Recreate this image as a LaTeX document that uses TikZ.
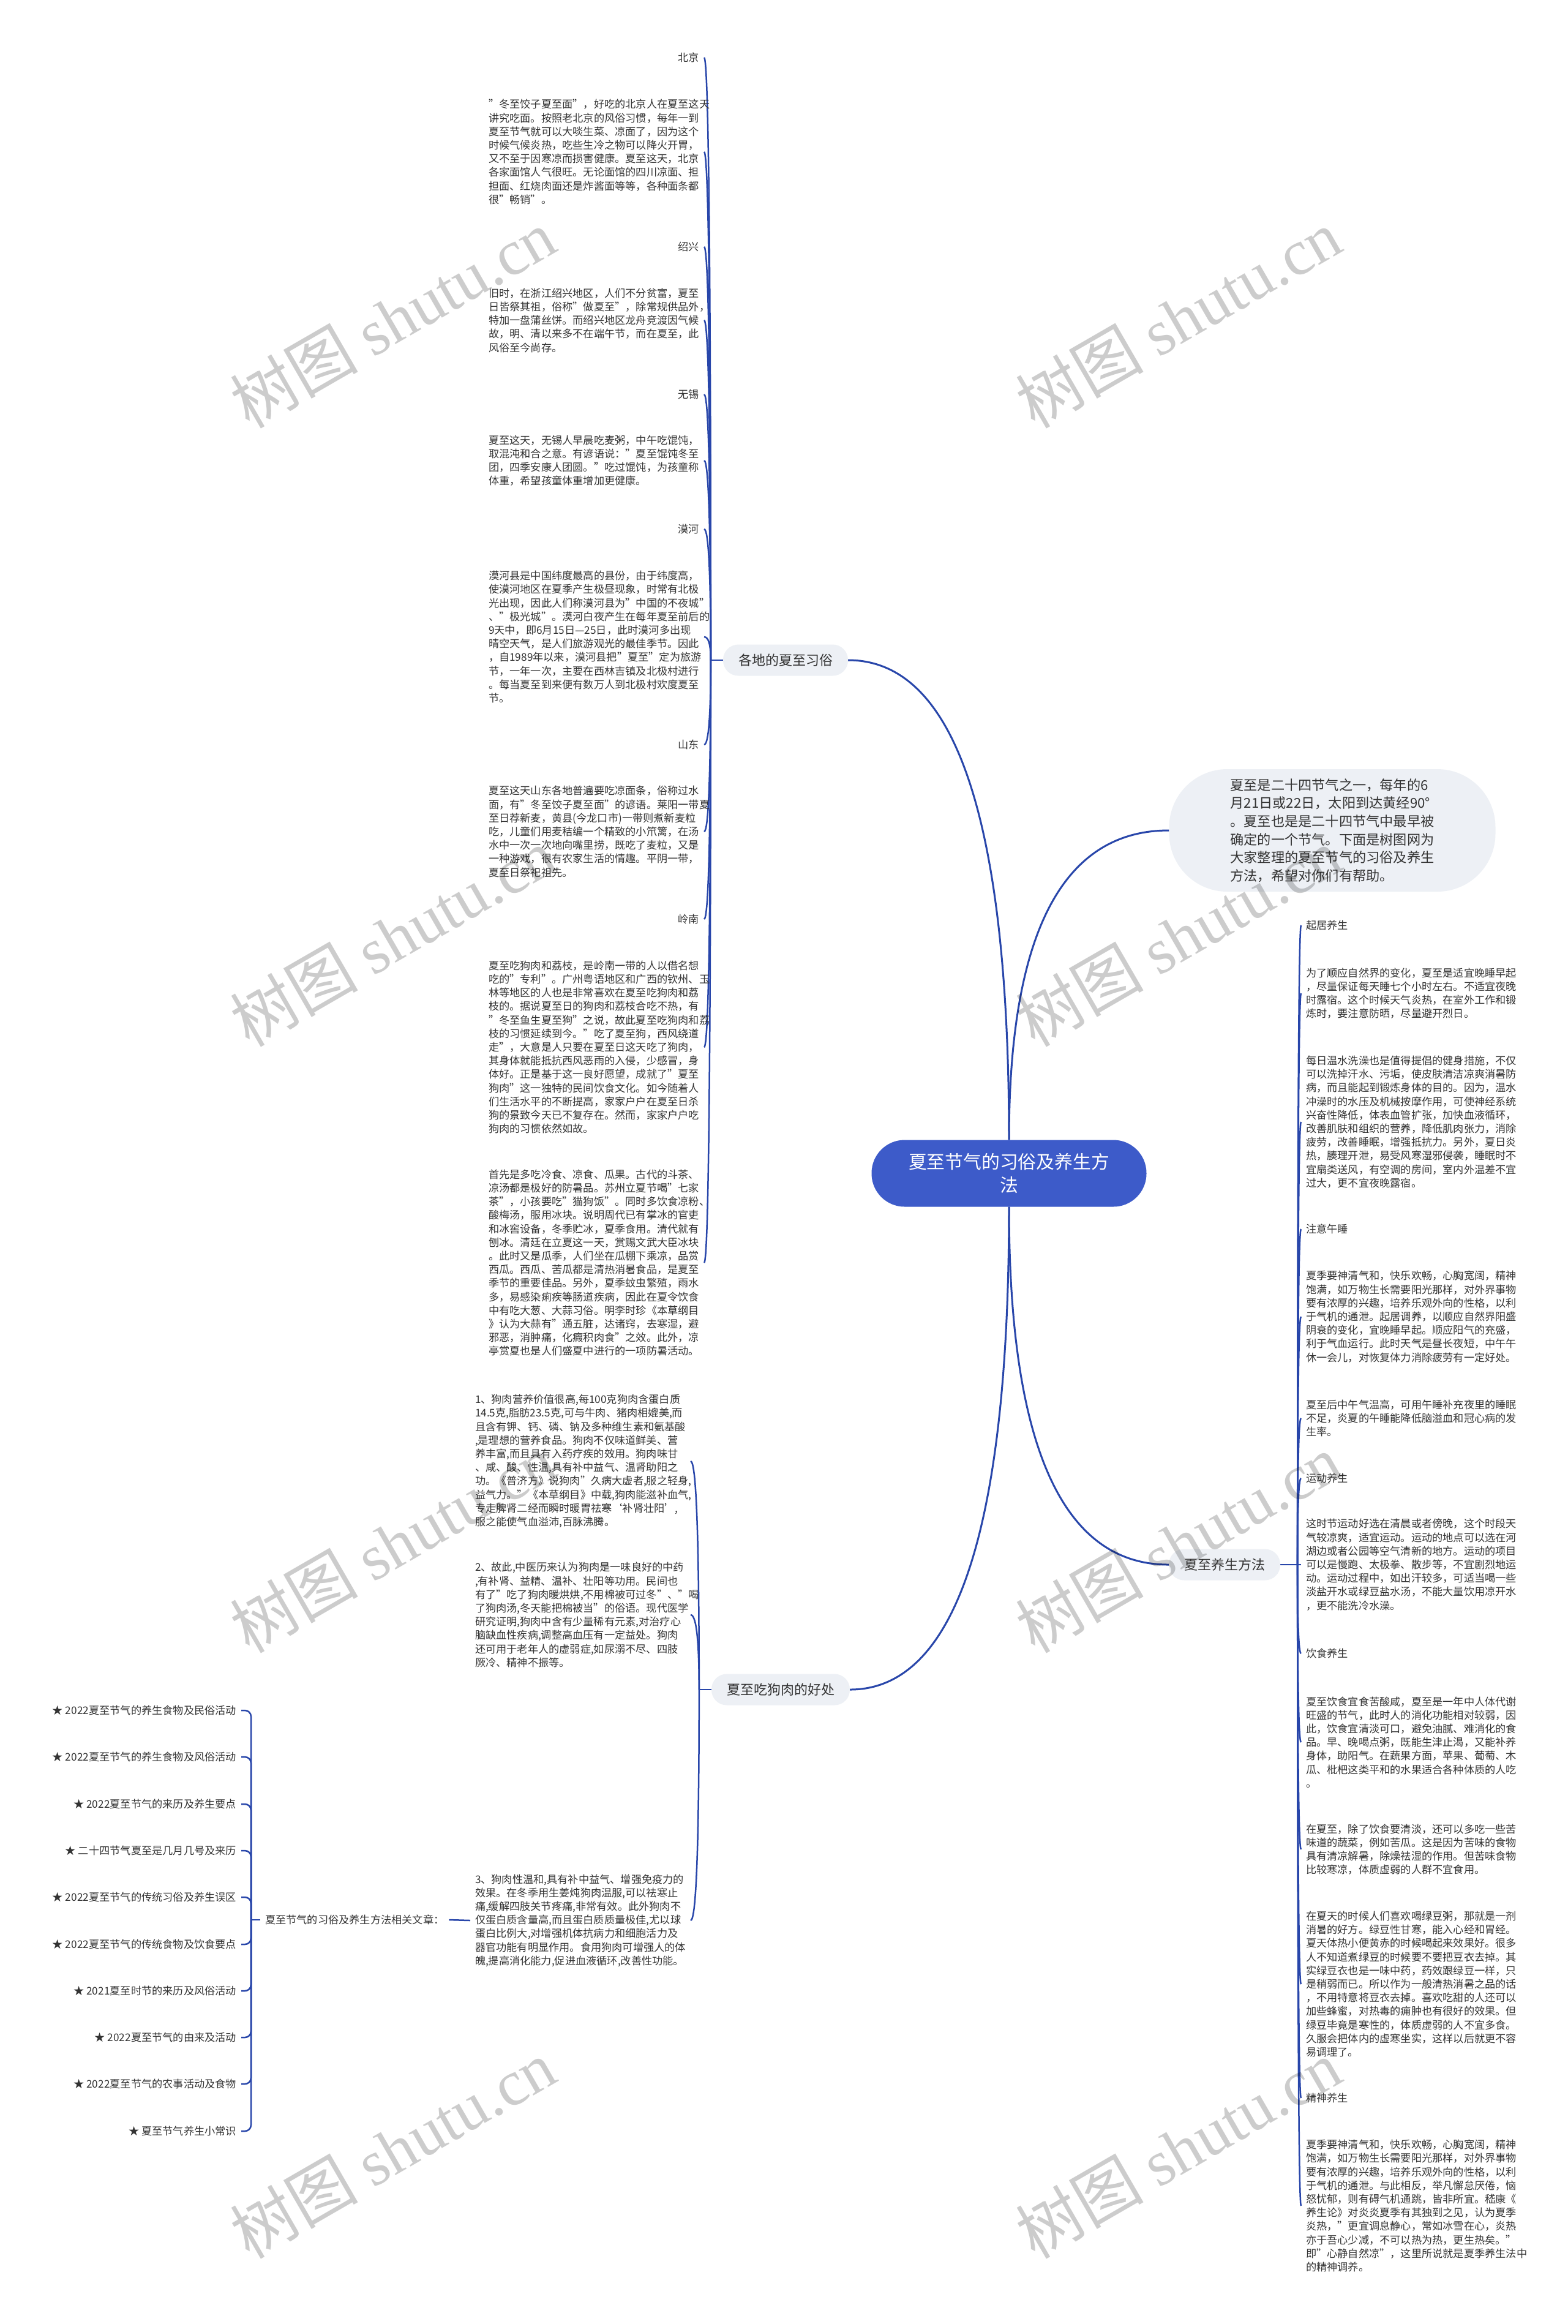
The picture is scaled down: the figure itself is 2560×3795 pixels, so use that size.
\documentclass[tikz,border=0pt]{standalone}
\usepackage{fontspec}
\setmainfont{Noto Sans CJK SC}
\newfontfamily\wmserif{Liberation Serif}
\usetikzlibrary{calc}
\definecolor{lc}{HTML}{2846AA}
\definecolor{rootc}{HTML}{3D5BC9}
\definecolor{pillc}{HTML}{EDF0F5}
\definecolor{txt}{HTML}{333333}
\pgfdeclarelayer{bgz}
\pgfdeclarelayer{bgl}
\pgfdeclarelayer{fgw}
\pgfsetlayers{bgz,bgl,main,fgw}
\newcommand\leaffont{\fontsize{17.2pt}{22.2pt}\selectfont}
\newcommand\mmq[3][conn]{\draw[#1] (#2) .. controls ($(#2)!0.6667!(#2|-#3)$) and ($(#3)!0.6667!(#2|-#3)$) .. (#3);}
\begin{document}
\begin{tikzpicture}[x=1pt,y=-1pt,
  leaf/.style={font=\leaffont, text=txt, inner sep=0pt, outer xsep=8pt, outer ysep=0pt, align=left},
  blk/.style={leaf, text width=344pt},
  conn/.style={draw=lc, line width=2.5pt},
  rconn/.style={draw=lc, line width=3pt},
  pill/.style={fill=pillc, rounded corners=25pt, minimum height=51pt, inner xsep=25pt, inner ysep=0pt, font=\fontsize{22pt}{26pt}\selectfont, text=txt},
  rootn/.style={fill=rootc, rounded corners=54pt, minimum width=449pt, minimum height=109pt, text=white, align=center, font=\fontsize{29.8pt}{37.7pt}\selectfont, inner sep=0pt},
  intro/.style={fill=pillc, rounded corners=95pt, text width=333pt, align=left, inner xsep=100pt, inner ysep=0pt, minimum height=200pt, font=\fontsize{22.2pt}{29.6pt}\selectfont, text=txt},
  wm/.style={rotate=30, text=black, text opacity=0.2, font=\fontsize{105pt}{110pt}\selectfont}
]
\useasboundingbox (0,0) rectangle (2560,3795);
\begin{pgfonlayer}{bgz}
\fill[white] (0,0) rectangle (2560,3795);
\end{pgfonlayer}

% root and branches
\node[rootn] (root) at (1648,1916) {夏至节气的习俗及养生方\\法};
\node[intro] (intro) at (2176,1356) {夏至是二十四节气之一，每年的6\\月21日或22日，太阳到达黄经90°\\。夏至也是是二十四节气中最早被\\确定的一个节气。下面是树图网为\\大家整理的夏至节气的习俗及养生\\方法，希望对你们有帮助。};
\node[pill] (gedi) at (1283,1078) {各地的夏至习俗};
\node[pill] (yang) at (2000,2555) {夏至养生方法};
\node[pill] (dog) at (1275,2759) {夏至吃狗肉的好处};

% customs (left)
\node[leaf, anchor=east] (bjL) at (1150,94) {北京};
\node[blk, anchor=west] (bjT) at (790,248) {"冬至饺子夏至面"，好吃的北京人在夏至这天\\讲究吃面。按照老北京的风俗习惯，每年一到\\夏至节气就可以大啖生菜、凉面了，因为这个\\时候气候炎热，吃些生冷之物可以降火开胃，\\又不至于因寒凉而损害健康。夏至这天，北京\\各家面馆人气很旺。无论面馆的四川凉面、担\\担面、红烧肉面还是炸酱面等等，各种面条都\\很"畅销"。};
\node[leaf, anchor=east] (sxL) at (1150,403) {绍兴};
\node[blk, anchor=west] (sxT) at (790,523) {旧时，在浙江绍兴地区，人们不分贫富，夏至\\日皆祭其祖，俗称"做夏至"，除常规供品外，\\特加一盘蒲丝饼。而绍兴地区龙舟竞渡因气候\\故，明、清以来多不在端午节，而在夏至，此\\风俗至今尚存。};
\node[leaf, anchor=east] (wxL) at (1150,644) {无锡};
\node[blk, anchor=west] (wxT) at (790,752) {夏至这天，无锡人早晨吃麦粥，中午吃馄饨，\\取混沌和合之意。有谚语说："夏至馄饨冬至\\团，四季安康人团圆。"吃过馄饨，为孩童称\\体重，希望孩童体重增加更健康。};
\node[leaf, anchor=east] (mhL) at (1150,864) {漠河};
\node[blk, anchor=west] (mhT) at (790,1040) {漠河县是中国纬度最高的县份，由于纬度高，\\使漠河地区在夏季产生极昼现象，时常有北极\\光出现，因此人们称漠河县为"中国的不夜城"\\、"极光城"。漠河白夜产生在每年夏至前后的\\9天中，即6月15日—25日，此时漠河多出现\\晴空天气，是人们旅游观光的最佳季节。因此\\，自1989年以来，漠河县把"夏至"定为旅游\\节，一年一次，主要在西林吉镇及北极村进行\\。每当夏至到来便有数万人到北极村欢度夏至\\节。};
\node[leaf, anchor=east] (sdL) at (1150,1216) {山东};
\node[blk, anchor=west] (sdT) at (790,1358) {夏至这天山东各地普遍要吃凉面条，俗称过水\\面，有"冬至饺子夏至面"的谚语。莱阳一带夏\\至日荐新麦，黄县(今龙口市)一带则煮新麦粒\\吃，儿童们用麦秸编一个精致的小笊篱，在汤\\水中一次一次地向嘴里捞，既吃了麦粒，又是\\一种游戏，很有农家生活的情趣。平阴一带，\\夏至日祭祀祖先。};
\node[leaf, anchor=east] (lnL) at (1150,1501) {岭南};
\node[blk, anchor=west] (lnT) at (790,1710) {夏至吃狗肉和荔枝，是岭南一带的人以借名想\\吃的"专利"。广州粤语地区和广西的钦州、玉\\林等地区的人也是非常喜欢在夏至吃狗肉和荔\\枝的。据说夏至日的狗肉和荔枝合吃不热，有\\"冬至鱼生夏至狗"之说，故此夏至吃狗肉和荔\\枝的习惯延续到今。"吃了夏至狗，西风绕道\\走"，大意是人只要在夏至日这天吃了狗肉，\\其身体就能抵抗西风恶雨的入侵，少感冒，身\\体好。正是基于这一良好愿望，成就了"夏至\\狗肉"这一独特的民间饮食文化。如今随着人\\们生活水平的不断提高，家家户户在夏至日杀\\狗的景致今天已不复存在。然而，家家户户吃\\狗肉的习惯依然如故。};
\node[blk, anchor=west] (lnT2) at (790,2062) {首先是多吃冷食、凉食、瓜果。古代的斗茶、\\凉汤都是极好的防暑品。苏州立夏节喝"七家\\茶"，小孩要吃"猫狗饭"。同时多饮食凉粉、\\酸梅汤，服用冰块。说明周代已有掌冰的官吏\\和冰窖设备，冬季贮冰，夏季食用。清代就有\\刨冰。清廷在立夏这一天，赏赐文武大臣冰块\\。此时又是瓜季，人们坐在瓜棚下乘凉，品赏\\西瓜。西瓜、苦瓜都是清热消暑食品，是夏至\\季节的重要佳品。另外，夏季蚊虫繁殖，雨水\\多，易感染痢疾等肠道疾病，因此在夏令饮食\\中有吃大葱、大蒜习俗。明李时珍《本草纲目\\》认为大蒜有"通五脏，达诸窍，去寒湿，避\\邪恶，消肿痛，化瘕积肉食"之效。此外，凉\\亭赏夏也是人们盛夏中进行的一项防暑活动。};

% dog meat (left, lower)
\node[blk, anchor=west] (d1) at (768,2386) {1、狗肉营养价值很高,每100克狗肉含蛋白质\\14.5克,脂肪23.5克,可与牛肉、猪肉相媲美,而\\且含有钾、钙、磷、钠及多种维生素和氨基酸\\,是理想的营养食品。狗肉不仅味道鲜美、营\\养丰富,而且具有入药疗疾的效用。狗肉味甘\\、咸、酸、性温,具有补中益气、温肾助阳之\\功。《普济方》说狗肉"久病大虚者,服之轻身,\\益气力。"《本草纲目》中载,狗肉能滋补血气,\\专走脾肾二经而瞬时暖胃祛寒‘补肾壮阳’,\\服之能使气血溢沛,百脉沸腾。};
\node[blk, anchor=west] (d2) at (768,2637) {2、故此,中医历来认为狗肉是一味良好的中药\\,有补肾、益精、温补、壮阳等功用。民间也\\有了"吃了狗肉暖烘烘,不用棉被可过冬"、"喝\\了狗肉汤,冬天能把棉被当"的俗语。现代医学\\研究证明,狗肉中含有少量稀有元素,对治疗心\\脑缺血性疾病,调整高血压有一定益处。狗肉\\还可用于老年人的虚弱症,如尿溺不尽、四肢\\厥冷、精神不振等。};
\node[blk, anchor=west] (d3) at (768,3136) {3、狗肉性温和,具有补中益气、增强免疫力的\\效果。在冬季用生姜炖狗肉温服,可以祛寒止\\痛,缓解四肢关节疼痛,非常有效。此外狗肉不\\仅蛋白质含量高,而且蛋白质质量极佳,尤以球\\蛋白比例大,对增强机体抗病力和细胞活力及\\器官功能有明显作用。食用狗肉可增强人的体\\魄,提高消化能力,促进血液循环,改善性功能。};

% related articles
\node[leaf, anchor=west] (rel) at (425,3135) {夏至节气的习俗及养生方法相关文章：};
\node[leaf, anchor=east] (a1) at (394,2793) {★ 2022夏至节气的养生食物及民俗活动};
\node[leaf, anchor=east] (a2) at (394,2869) {★ 2022夏至节气的养生食物及风俗活动};
\node[leaf, anchor=east] (a3) at (394,2946) {★ 2022夏至节气的来历及养生要点};
\node[leaf, anchor=east] (a4) at (394,3022) {★ 二十四节气夏至是几月几号及来历};
\node[leaf, anchor=east] (a5) at (394,3098) {★ 2022夏至节气的传统习俗及养生误区};
\node[leaf, anchor=east] (a6) at (394,3175) {★ 2022夏至节气的传统食物及饮食要点};
\node[leaf, anchor=east] (a7) at (394,3251) {★ 2021夏至时节的来历及风俗活动};
\node[leaf, anchor=east] (a8) at (394,3327) {★ 2022夏至节气的由来及活动};
\node[leaf, anchor=east] (a9) at (394,3403) {★ 2022夏至节气的农事活动及食物};
\node[leaf, anchor=east] (a10) at (394,3480) {★ 夏至节气养生小常识};

% health (right)
\node[leaf, anchor=west] (r1) at (2125,1511) {起居养生};
\node[blk, anchor=west] (r2) at (2125,1622) {为了顺应自然界的变化，夏至是适宜晚睡早起\\，尽量保证每天睡七个小时左右。不适宜夜晚\\时露宿。这个时候天气炎热，在室外工作和锻\\炼时，要注意防晒，尽量避开烈日。};
\node[blk, anchor=west] (r3) at (2125,1832) {每日温水洗澡也是值得提倡的健身措施，不仅\\可以洗掉汗水、污垢，使皮肤清洁凉爽消暑防\\病，而且能起到锻炼身体的目的。因为，温水\\冲澡时的水压及机械按摩作用，可使神经系统\\兴奋性降低，体表血管扩张，加快血液循环，\\改善肌肤和组织的营养，降低肌肉张力，消除\\疲劳，改善睡眠，增强抵抗力。另外，夏日炎\\热，腠理开泄，易受风寒湿邪侵袭，睡眠时不\\宜扇类送风，有空调的房间，室内外温差不宜\\过大，更不宜夜晚露宿。};
\node[leaf, anchor=west] (r4) at (2125,2007) {注意午睡};
\node[blk, anchor=west] (r5) at (2125,2150) {夏季要神清气和，快乐欢畅，心胸宽阔，精神\\饱满，如万物生长需要阳光那样，对外界事物\\要有浓厚的兴趣，培养乐观外向的性格，以利\\于气机的通泄。起居调养，以顺应自然界阳盛\\阴衰的变化，宜晚睡早起。顺应阳气的充盛，\\利于气血运行。此时天气是昼长夜短，中午午\\休一会儿，对恢复体力消除疲劳有一定好处。};
\node[blk, anchor=west] (r6) at (2125,2316) {夏至后中午气温高，可用午睡补充夜里的睡眠\\不足，炎夏的午睡能降低脑溢血和冠心病的发\\生率。};
\node[leaf, anchor=west] (r7) at (2125,2414) {运动养生};
\node[blk, anchor=west] (r8) at (2125,2555) {这时节运动好选在清晨或者傍晚，这个时段天\\气较凉爽，适宜运动。运动的地点可以选在河\\湖边或者公园等空气清新的地方。运动的项目\\可以是慢跑、太极拳、散步等，不宜剧烈地运\\动。运动过程中，如出汗较多，可适当喝一些\\淡盐开水或绿豆盐水汤，不能大量饮用凉开水\\，更不能洗冷水澡。};
\node[leaf, anchor=west] (r9) at (2125,2700) {饮食养生};
\node[blk, anchor=west] (r10) at (2125,2845) {夏至饮食宜食苦酸咸，夏至是一年中人体代谢\\旺盛的节气，此时人的消化功能相对较弱，因\\此，饮食宜清淡可口，避免油腻、难消化的食\\品。早、晚喝点粥，既能生津止渴，又能补养\\身体，助阳气。在蔬果方面，苹果、葡萄、木\\瓜、枇杷这类平和的水果适合各种体质的人吃\\。};
\node[blk, anchor=west] (r11) at (2125,3020) {在夏至，除了饮食要清淡，还可以多吃一些苦\\味道的蔬菜，例如苦瓜。这是因为苦味的食物\\具有清凉解暑，除燥祛湿的作用。但苦味食物\\比较寒凉，体质虚弱的人群不宜食用。};
\node[blk, anchor=west] (r12) at (2125,3240) {在夏天的时候人们喜欢喝绿豆粥，那就是一剂\\消暑的好方。绿豆性甘寒，能入心经和胃经。\\夏天体热小便黄赤的时候喝起来效果好。很多\\人不知道煮绿豆的时候要不要把豆衣去掉。其\\实绿豆衣也是一味中药，药效跟绿豆一样，只\\是稍弱而已。所以作为一般清热消暑之品的话\\，不用特意将豆衣去掉。喜欢吃甜的人还可以\\加些蜂蜜，对热毒的痈肿也有很好的效果。但\\绿豆毕竟是寒性的，体质虚弱的人不宜多食。\\久服会把体内的虚寒坐实，这样以后就更不容\\易调理了。};
\node[leaf, anchor=west] (r13) at (2125,3426) {精神养生};
\node[blk, anchor=west] (r14) at (2125,3602) {夏季要神清气和，快乐欢畅，心胸宽阔，精神\\饱满，如万物生长需要阳光那样，对外界事物\\要有浓厚的兴趣，培养乐观外向的性格，以利\\于气机的通泄。与此相反，举凡懈怠厌倦，恼\\怒忧郁，则有碍气机通跳，皆非所宜。嵇康《\\养生论》对炎炎夏季有其独到之见，认为夏季\\炎热，"更宜调息静心，常如冰雪在心，炎热\\亦于吾心少减，不可以热为热，更生热矣。"\\即"心静自然凉"，这里所说就是夏季养生法中\\的精神调养。};

% connectors
\begin{pgfonlayer}{bgl}
\mmq[rconn]{root.north}{gedi.east}
\mmq[rconn]{root.north}{intro.west}
\mmq[rconn]{root.south}{yang.west}
\mmq[rconn]{root.south}{dog.east}
\coordinate (gP) at ([xshift=-20pt]gedi.west);
\draw[conn] (gedi.west) -- (gP);
\foreach \n in {bjL,bjT,sxL,sxT,wxL,wxT,mhL,mhT,sdL,sdT,lnL,lnT,lnT2}{\mmq{gP}{\n.east}}
\coordinate (dP) at ([xshift=-20pt]dog.west);
\draw[conn] (dog.west) -- (dP);
\foreach \n in {d1,d2,d3}{\mmq{dP}{\n.east}}
\coordinate (yP) at ([xshift=28pt]yang.east);
\draw[conn] (yang.east) -- (yP);
\foreach \n in {r1,r2,r3,r4,r5,r6,r7,r8,r9,r10,r11,r12,r13,r14}{\mmq{yP}{\n.west}}
\draw[conn] (d3.west) -- (rel.east);
\coordinate (rP) at ([xshift=-15pt]rel.west);
\draw[conn] (rel.west) -- (rP);
\foreach \n in {a1,a2,a3,a4,a5,a6,a7,a8,a9,a10}{\draw[conn, rounded corners=10pt] (rP) |- (\n.east);}
\end{pgfonlayer}

% watermarks
\begin{pgfonlayer}{fgw}
\foreach \wx/\wy [count=\i] in {641/520,1924/520,641/1530,1924/1530,641/2520,1924/2520,641/3509,1924/3509}{
  \node[wm] (wm\i) at (\wx,\wy) {树图 {\wmserif shutu.cn}};
}
\end{pgfonlayer}
\end{tikzpicture}
\end{document}
